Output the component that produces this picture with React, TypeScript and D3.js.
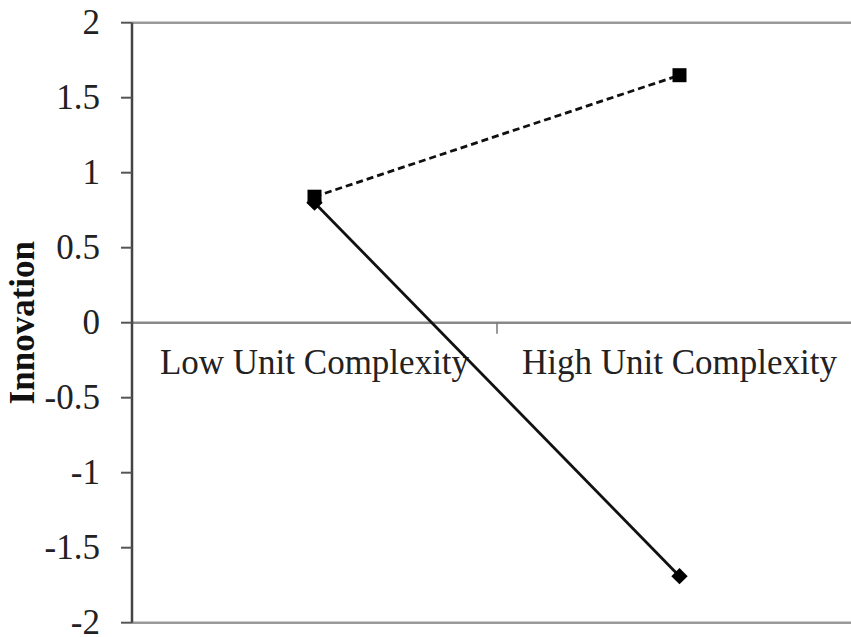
import * as d3 from 'd3';

// categories and series
const categories = ['Low Unit Complexity', 'High Unit Complexity'];
const dashedSeries = [0.84, 1.65];
const solidSeries = [0.8, -1.69];
const yTicks = [2, 1.5, 1, 0.5, 0, -0.5, -1, -1.5, -2];
const yLabel = 'Innovation';

const W = 851;
const H = 637;
const FONT = '"Liberation Serif", "Times New Roman", serif';

function App() {
    const left = 132;
    const top = 22.7;
    const bottom = 622.7;

    // band scale runs past the right edge, the picture is cropped there
    const x = d3.scaleBand<string>().domain(categories).range([left, left + 730]);
    const y = d3.scaleLinear().domain([-2, 2]).range([bottom, top]);
    const cx = (c: string) => (x(c) as number) + x.bandwidth() / 2;

    const line = d3.line<number>()
        .x((_, i) => cx(categories[i]))
        .y(d => y(d));

    const diamond = d3.symbol().type(d3.symbolDiamond2).size(170)();

    return (
        <svg width={W} height={H} style={{ position: 'absolute', left: 0, top: 0, background: '#fff' }}>
            {/* top and bottom borders */}
            <line x1={left} x2={W} y1={y(2)} y2={y(2)} stroke="#999" strokeWidth={2.5} />
            <line x1={left} x2={W} y1={y(-2)} y2={y(-2)} stroke="#999" strokeWidth={2.5} />
            {/* zero line */}
            <line x1={left} x2={W} y1={y(0)} y2={y(0)} stroke="#888" strokeWidth={2.5} />
            {/* category tick */}
            <line x1={left + x.bandwidth()} x2={left + x.bandwidth()} y1={y(0)} y2={y(0) + 11} stroke="#777" strokeWidth={1.5} />

            {/* y axis */}
            <line x1={left} x2={left} y1={y(2)} y2={y(-2)} stroke="#444" strokeWidth={2.5} />
            {yTicks.map(t => (
                <g key={t}>
                    <line x1={left - 11} x2={left} y1={y(t)} y2={y(t)} stroke="#555" strokeWidth={2} />
                    <text x={100} y={y(t)} dy="0.32em" textAnchor="end" fontFamily={FONT} fontSize={35} fill="#222">
                        {t}
                    </text>
                </g>
            ))}
            <text
                transform={`translate(34, ${(y(2) + y(-2)) / 2}) rotate(-90)`}
                textAnchor="middle"
                fontFamily={FONT}
                fontSize={35}
                fontWeight="bold"
                fill="#111"
            >
                {yLabel}
            </text>

            {/* category labels */}
            {categories.map(c => (
                <text key={c} x={cx(c)} y={374} textAnchor="middle" fontFamily={FONT} fontSize={35} fill="#222">
                    {c}
                </text>
            ))}

            {/* series */}
            <path d={line(solidSeries) as string} fill="none" stroke="#111" strokeWidth={2.8} />
            <path d={line(dashedSeries) as string} fill="none" stroke="#111" strokeWidth={2.8} strokeDasharray="7,4" />
            {solidSeries.map((v, i) => (
                <path key={'d' + i} d={diamond as string} transform={`translate(${cx(categories[i])},${y(v)})`} fill="#000" />
            ))}
            {dashedSeries.map((v, i) => (
                <rect key={'s' + i} x={cx(categories[i]) - 7} y={y(v) - 7} width={14} height={14} fill="#000" />
            ))}
        </svg>
    );
}

export default App;
